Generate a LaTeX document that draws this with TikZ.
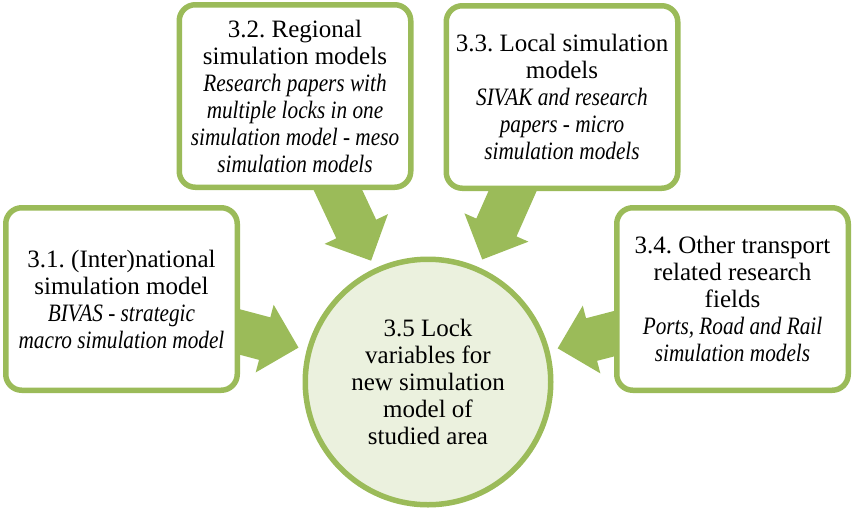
\documentclass[tikz,border=0pt]{standalone}
\usepackage{fontspec}
\setmainfont{Liberation Serif}[ItalicFeatures={FakeStretch=0.85}]
\usetikzlibrary{calc,backgrounds}
\definecolor{leaf}{HTML}{9BBB59}
\definecolor{paleleaf}{HTML}{EBF1DE}
\frenchspacing

% Block arrow from a start coordinate (#1) toward the central circle; #2 names its helpers
\newcommand\convarrow[2]{%
  \coordinate (#2tip) at ($(target.center)!134pt!(#1)$);
  \coordinate (#2base) at ($(#2tip)!35pt!(#1)$);
  \fill[flow] ($(#1)!22pt!90:(#2tip)$) -- ($(#2base)!22pt!-90:(#1)$)
    -- ($(#2base)!35pt!-90:(#1)$) -- (#2tip) -- ($(#2base)!35pt!90:(#1)$)
    -- ($(#2base)!22pt!90:(#1)$) -- ($(#1)!22pt!-90:(#2tip)$) -- cycle;}

\begin{document}
\begin{tikzpicture}[x=1pt,y=-1pt,
  textfont/.style={font=\fontsize{25}{27}\selectfont\frenchspacing, align=center, text=black},
  infobox/.style={textfont, draw=leaf, line width=5.5pt, fill=white,
    rounded corners=16pt, minimum width=231.5pt, minimum height=182.5pt, inner sep=0pt},
  goal/.style={textfont, circle, draw=leaf, line width=5.5pt, fill=paleleaf,
    minimum size=245.5pt, inner sep=0pt},
  flow/.style={fill=leaf}]
\useasboundingbox (0,0) rectangle (852,507);

\node[infobox] (regional) at (295,96) {3.2. Regional\\simulation models\\
  \textit{Research papers with}\\\textit{multiple locks in one}\\
  \textit{simulation model - meso}\\\textit{simulation models}};
\node[infobox] (local) at (562,97) {3.3. Local simulation\\models\\
  \textit{SIVAK and research}\\\textit{papers - micro}\\\textit{simulation models}};
\node[infobox] (national) at (121.5,299) {3.1. (Inter)national\\simulation model\\
  \textit{BIVAS - strategic}\\\textit{macro simulation model}};
\node[infobox] (other) at (732.5,299) {3.4. Other transport\\related research\\fields\\
  \textit{Ports, Road and Rail}\\\textit{simulation models}};
\node[goal] (target) at (428,382) {3.5 Lock\\variables for\\new simulation\\model of\\studied area};

% arrow tails start inside the boxes, which cover them
\coordinate (from1) at (221,327);
\coordinate (from2) at (329.5,172);
\coordinate (from3) at (521,172);
\coordinate (from4) at (634,328.5);

\begin{pgfonlayer}{background}
  \convarrow{from1}{a1}
  \convarrow{from2}{a2}
  \convarrow{from3}{a3}
  \convarrow{from4}{a4}
\end{pgfonlayer}
\end{tikzpicture}
\end{document}
